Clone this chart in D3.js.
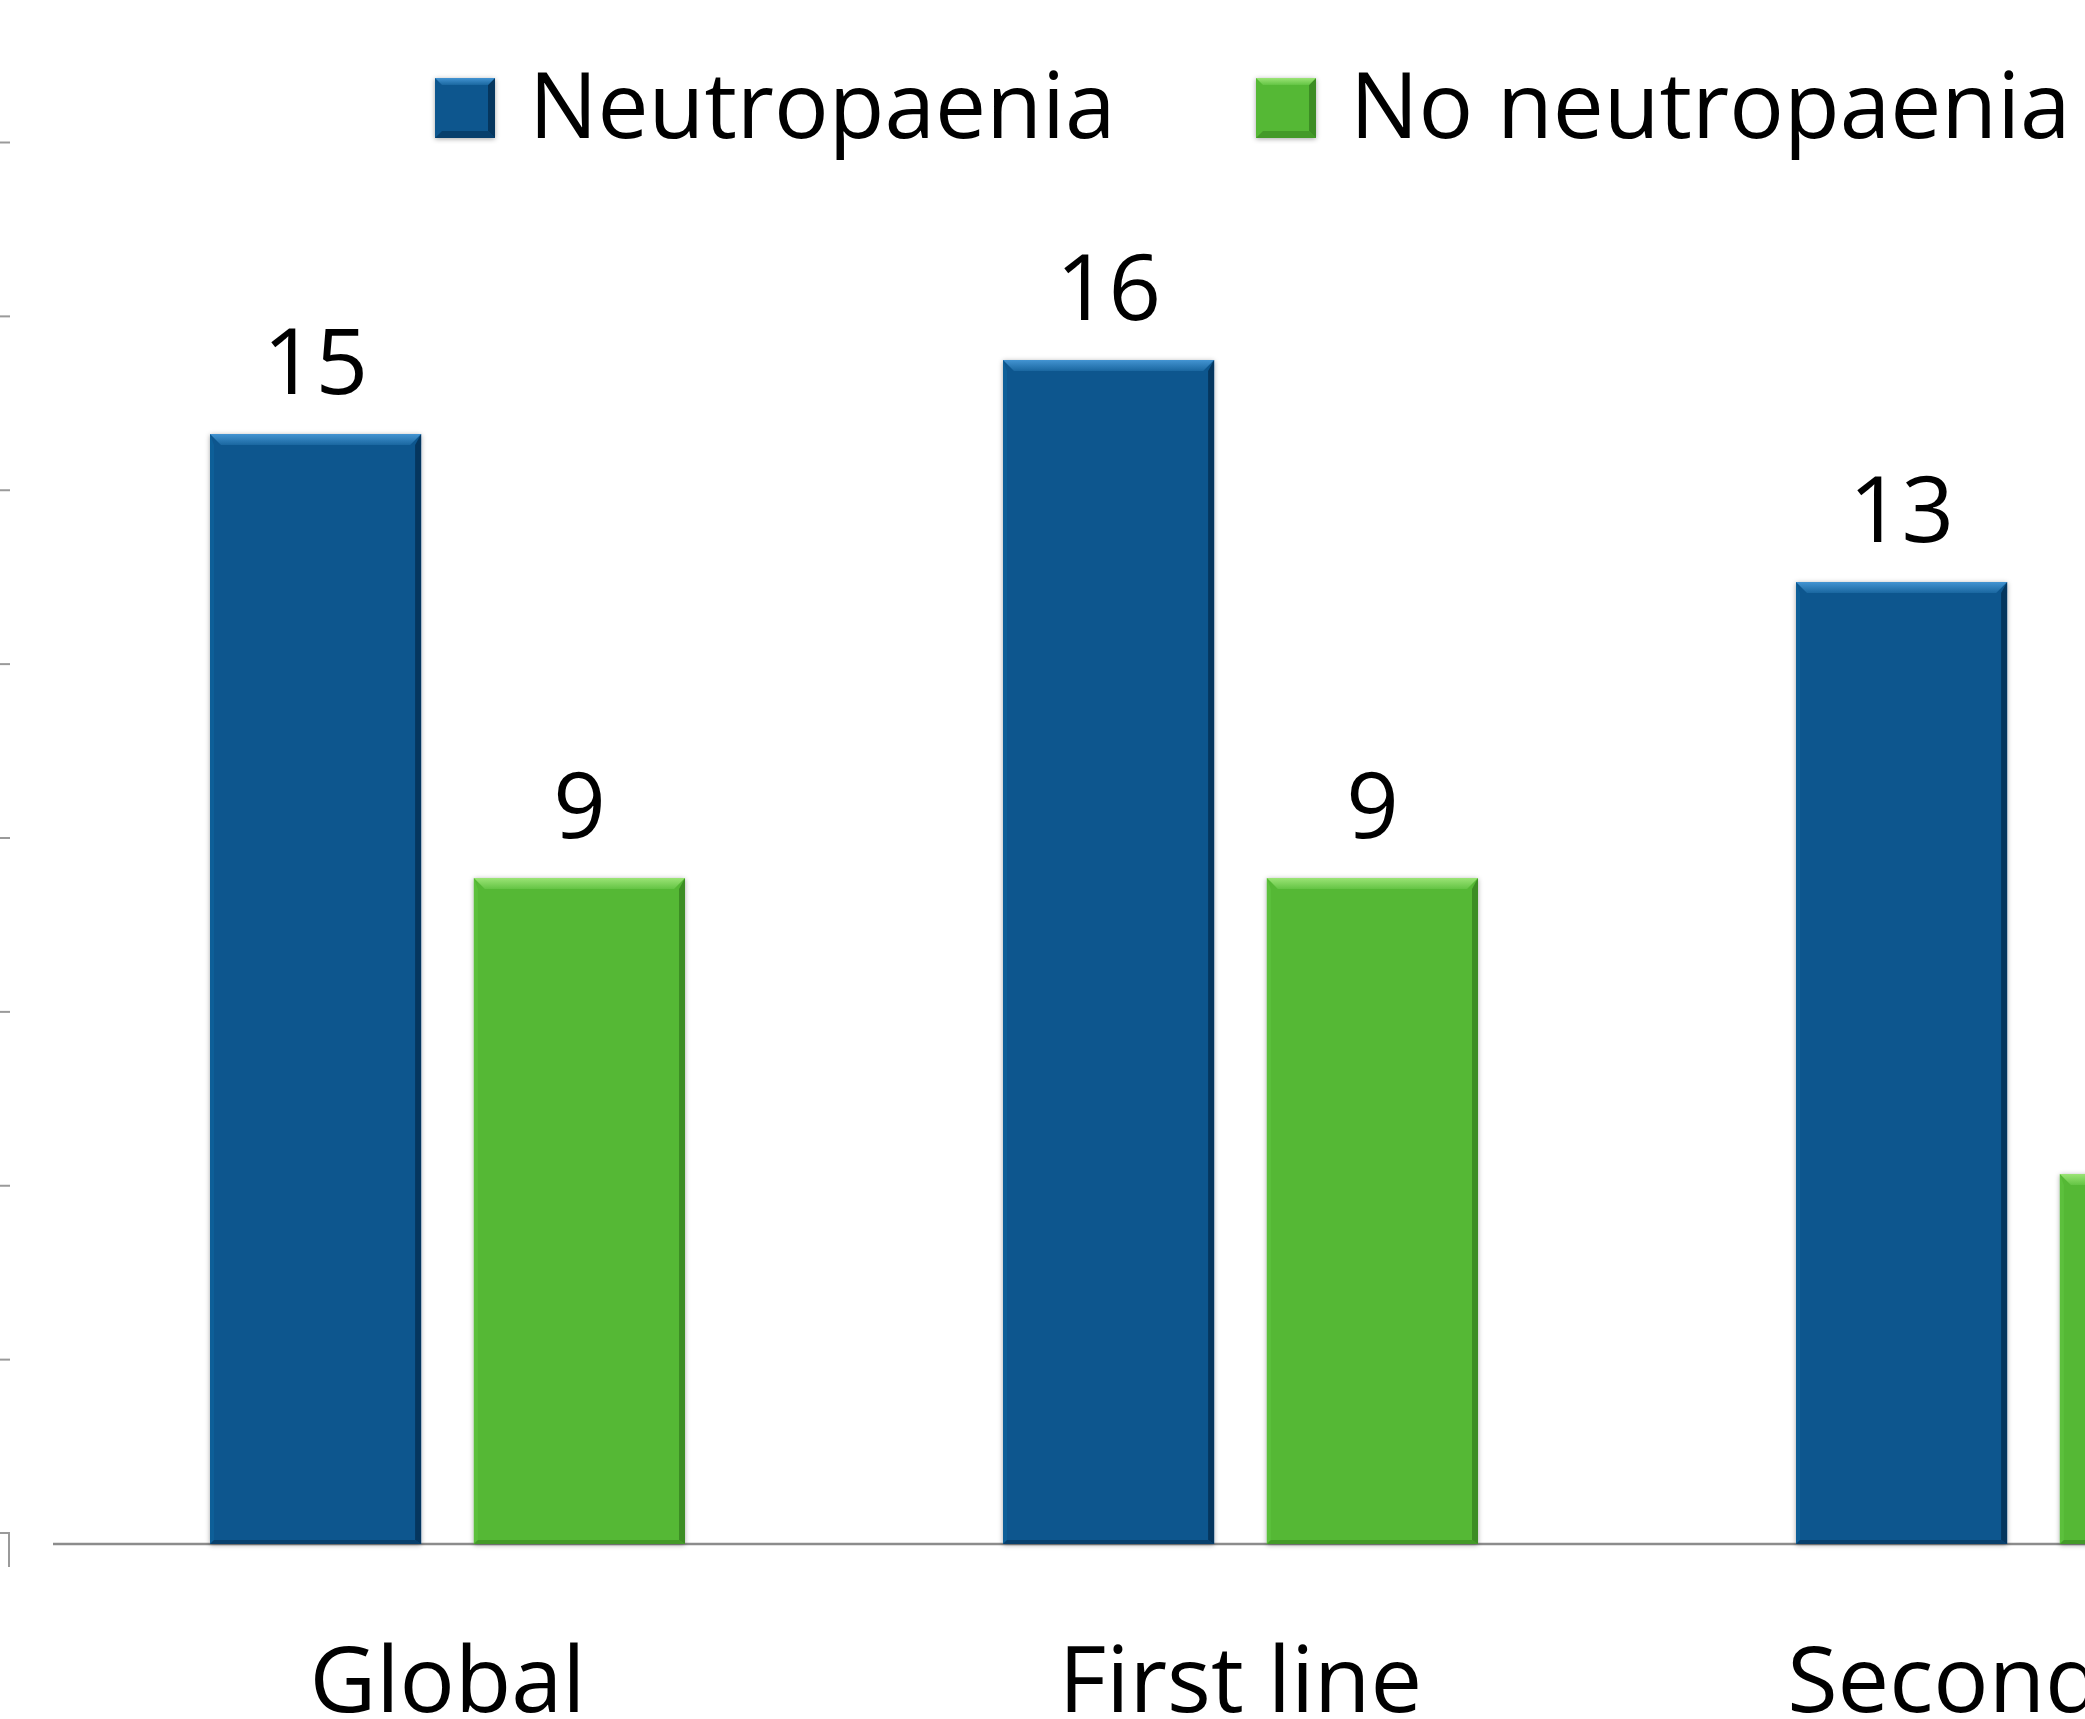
<!DOCTYPE html>
<html>
<head>
<meta charset="utf-8">
<script src="https://cdn.jsdelivr.net/npm/d3@7"></script>
<style>
  html, body { margin: 0; padding: 0; background: #ffffff; overflow: hidden; }
  svg { display: block; font-family: "Open Sans", "Noto Sans", sans-serif; }
</style>
</head>
<body>
<script>
// Median values by treatment line, split by neutropaenia status
const categories = ["Global", "First line", "Second line"];
const seriesNames = ["Neutropaenia", "No neutropaenia"];
const neutropaenia = [15, 16, 13];
const noNeutropaenia = [9, 9, 5];
const wallTicks = [0, 2, 4, 6, 8, 10, 12, 14, 16];

const seriesValues = [neutropaenia, noNeutropaenia];
const palette = {
  "Neutropaenia":    { base: "#0a578e", light: "#4394d2", lightEnd: "#1a67a0", dark: "#05365e", side: "#0d5f98" },
  "No neutropaenia": { base: "#55b836", light: "#9be476", lightEnd: "#64c444", dark: "#3c8d24", side: "#5cc03c" }
};

const W = 2085, H = 1719;
const baseY = 1544;

const svg = d3.select("body").append("svg")
  .attr("width", W).attr("height", H);

const defs = svg.append("defs");
const shadow = defs.append("filter").attr("id", "barShadow")
  .attr("x", "-10%").attr("y", "-10%").attr("width", "120%").attr("height", "120%");
shadow.append("feDropShadow").attr("dx", 0).attr("dy", 1)
  .attr("stdDeviation", 2.5).attr("flood-color", "#000").attr("flood-opacity", 0.35);

seriesNames.forEach((s, i) => {
  const g = defs.append("linearGradient").attr("id", "topBevel" + i)
    .attr("x1", 0).attr("y1", 0).attr("x2", 0).attr("y2", 1);
  g.append("stop").attr("offset", "0%").attr("stop-color", palette[s].light);
  g.append("stop").attr("offset", "100%").attr("stop-color", palette[s].lightEnd);
});

// Scales
const x0 = d3.scaleBand().domain(categories).range([51, 51 + 3 * 793]).padding(0);
const x1 = d3.scaleBand().domain(seriesNames).range([159, 634]).paddingInner(0.2);
const y = d3.scaleLinear().domain([0, 20]).range([baseY, baseY - 20 * 74]);
// back-wall value axis (its labels sit outside the visible area)
const yWall = d3.scaleLinear().domain([0, 16]).range([1533, 142]);

// Value axis tick marks along the left edge
const wallAxis = svg.append("g").attr("class", "wall-axis")
  .attr("transform", "translate(10,0)")
  .call(d3.axisLeft(yWall).tickValues(wallTicks.filter(v => v > 0)).tickSize(12).tickFormat(""));
wallAxis.select(".domain").remove();
wallAxis.selectAll(".tick line").attr("stroke", "#9a9a9a").attr("stroke-width", 2);

// floor corner at the base of the wall
svg.append("path")
  .attr("d", `M0,${yWall(0)} H9 V${yWall(0) + 34}`)
  .attr("fill", "none").attr("stroke", "#9a9a9a").attr("stroke-width", 2);

// Category axis line
svg.append("line")
  .attr("x1", 53).attr("x2", W).attr("y1", y(0)).attr("y2", y(0))
  .attr("stroke", "#8c8c8c").attr("stroke-width", 2.5);

// Bars with a bevelled edge
const b = 11;
const groups = svg.append("g").selectAll("g.cat")
  .data(categories).join("g")
  .attr("class", "cat")
  .attr("transform", d => `translate(${x0(d)},0)`);

groups.each(function(cat, ci) {
  const g = d3.select(this);
  seriesNames.forEach((s, si) => {
    const v = seriesValues[si][ci];
    const bx = x1(s), bw = x1.bandwidth();
    const by = y(v), bh = y(0) - y(v);
    const c = palette[s];
    const bar = g.append("g").attr("class", "bar");
    bar.append("rect").attr("x", bx).attr("y", by).attr("width", bw).attr("height", bh)
      .attr("fill", c.base).attr("filter", "url(#barShadow)");
    // left edge
    bar.append("path")
      .attr("d", `M${bx},${by} L${bx + 4},${by + b} L${bx + 4},${by + bh - 4} L${bx},${by + bh}Z`)
      .attr("fill", c.side);
    // right edge
    bar.append("path")
      .attr("d", `M${bx + bw},${by} L${bx + bw - 6},${by + b} L${bx + bw - 6},${by + bh - 4} L${bx + bw},${by + bh}Z`)
      .attr("fill", c.dark);
    // bottom edge
    bar.append("path")
      .attr("d", `M${bx},${by + bh} L${bx + 4},${by + bh - 4} L${bx + bw - 6},${by + bh - 4} L${bx + bw},${by + bh}Z`)
      .attr("fill", c.dark).attr("opacity", 0.7);
    // top bevel
    bar.append("path")
      .attr("d", `M${bx},${by} L${bx + bw},${by} L${bx + bw - b},${by + b} L${bx + b},${by + b}Z`)
      .attr("fill", `url(#topBevel${si})`);
    // value label
    g.append("text")
      .attr("x", bx + bw / 2).attr("y", by - 40)
      .attr("text-anchor", "middle")
      .attr("font-size", 92).attr("fill", "#000")
      .text(v);
  });
});

// Category labels
svg.append("g").selectAll("text.cat-label")
  .data(categories).join("text")
  .attr("class", "cat-label")
  .attr("x", d => x0(d) + 159 + 475 / 2)
  .attr("y", 1712)
  .attr("text-anchor", "middle")
  .attr("font-size", 92).attr("fill", "#000")
  .text(d => d);

// Legend
const legendX = [435, 1256];
const legend = svg.append("g").selectAll("g.legend-item")
  .data(seriesNames).join("g")
  .attr("class", "legend-item")
  .attr("transform", (d, i) => `translate(${legendX[i]},78)`);

legend.each(function(s, si) {
  const g = d3.select(this);
  const c = palette[s];
  const sz = 60, lb = 7;
  g.append("rect").attr("width", sz).attr("height", sz).attr("fill", c.base)
    .attr("filter", "url(#barShadow)");
  g.append("path").attr("d", `M${sz},0 L${sz - lb},${lb} L${sz - lb},${sz - lb} L${sz},${sz}Z`).attr("fill", c.dark);
  g.append("path").attr("d", `M0,${sz} L${lb},${sz - lb} L${sz - lb},${sz - lb} L${sz},${sz}Z`).attr("fill", c.dark).attr("opacity", 0.7);
  g.append("path").attr("d", `M0,0 L${sz},0 L${sz - lb},${lb} L${lb},${lb}Z`).attr("fill", `url(#topBevel${si})`);
  g.append("text")
    .attr("x", 94).attr("y", 60)
    .attr("font-size", 91).attr("fill", "#000")
    .text(s);
});
</script>
</body>
</html>
